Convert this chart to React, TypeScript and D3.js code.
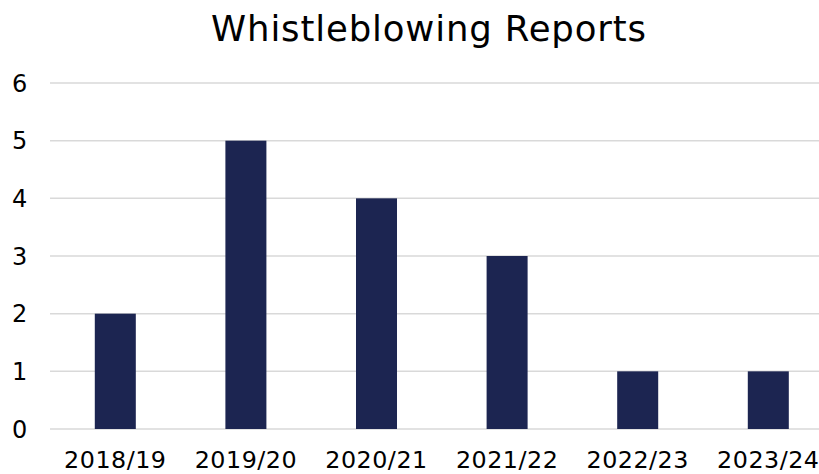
import React from "react";
import * as d3 from "d3";

const categories = ["2018/19", "2019/20", "2020/21", "2021/22", "2022/23", "2023/24"];
const reports = [2, 5, 4, 3, 1, 1];
const yTicks = [0, 1, 2, 3, 4, 5, 6];
const title = "Whistleblowing Reports";

const W = 819;
const H = 474;
const font = "'DejaVu Sans', Verdana, sans-serif";

export default function App() {
  const x = d3
    .scaleBand<string>()
    .domain(categories)
    .range([50, 833.6])
    .paddingInner(0.686)
    .paddingOuter(0.343);
  const y = d3.scaleLinear().domain([0, 6]).range([429, 83]);

  return (
    <svg
      width={W}
      height={H}
      style={{ position: "absolute", left: 0, top: 0, background: "#fff" }}
    >
      <text
        x={429}
        y={41}
        textAnchor="middle"
        fontFamily={font}
        fontSize={35.5}
        letterSpacing={0.85}
        fill="#000"
      >
        {title}
      </text>
      {yTicks.map((t) => (
        <g key={t}>
          <line x1={50} x2={W} y1={y(t)} y2={y(t)} stroke="#d9d9d9" strokeWidth={1.5} />
          <text
            x={19.7}
            y={y(t) + 8.7}
            textAnchor="middle"
            fontFamily={font}
            fontSize={24}
            fill="#000"
          >
            {t}
          </text>
        </g>
      ))}
      {categories.map((c, i) => (
        <g key={c}>
          <rect
            x={x(c)}
            y={y(reports[i])}
            width={x.bandwidth()}
            height={y(0) - y(reports[i])}
            fill="#1c2551"
          />
          <text
            x={(x(c) as number) + x.bandwidth() / 2}
            y={468}
            textAnchor="middle"
            fontFamily={font}
            fontSize={23.8}
            letterSpacing={0.5}
            fill="#000"
          >
            {c}
          </text>
        </g>
      ))}
    </svg>
  );
}
